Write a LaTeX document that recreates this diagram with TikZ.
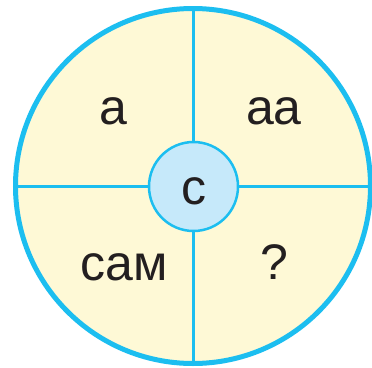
\documentclass[tikz,border=0pt]{standalone}
\usepackage{fontspec}
\setmainfont{Liberation Sans}
\definecolor{ringblue}{HTML}{1CBEF0}
\definecolor{sectorfill}{HTML}{FEF9D6}
\definecolor{hubfill}{HTML}{C6E9FA}
\definecolor{inkgray}{HTML}{231F20}
\begin{document}
\begin{tikzpicture}[x=1pt,y=-1pt,
		word/.style={anchor=base, text=inkgray, font=\fontsize{50}{60}\selectfont, inner sep=0pt}]
		\useasboundingbox (0,0) rectangle (372,367);
		\fill[sectorfill] (193,186) circle (178);

		% spokes from the hub to the ring
		\node[circle, draw=ringblue, line width=2.5pt, fill=hubfill, minimum size=89pt, inner sep=0pt] (hub) at (193.5,186.5) {};
		\coordinate (top) at (193.5,8);
		\coordinate (bottom) at (193.5,365);
		\coordinate (left) at (15,186.5);
		\coordinate (right) at (371,186.5);
		\draw[ringblue, line width=2.5pt] (hub.north) -- (top);
		\draw[ringblue, line width=2.5pt] (hub.south) -- (bottom);
		\draw[ringblue, line width=2.5pt] (hub.west) -- (left);
		\draw[ringblue, line width=2.5pt] (hub.east) -- (right);

		\draw[ringblue, line width=5pt] (193,186) circle (177.5);

		\node[word] (c) at (193.5,204) {с};
		\node[word] (a1) at (113,124) {а};
		\node[word] (a2) at (274,124) {аа};
		\node[word] (sam) at (124,280) {сам};
		\node[word] (q) at (274,279) {?};
\end{tikzpicture}
\end{document}
